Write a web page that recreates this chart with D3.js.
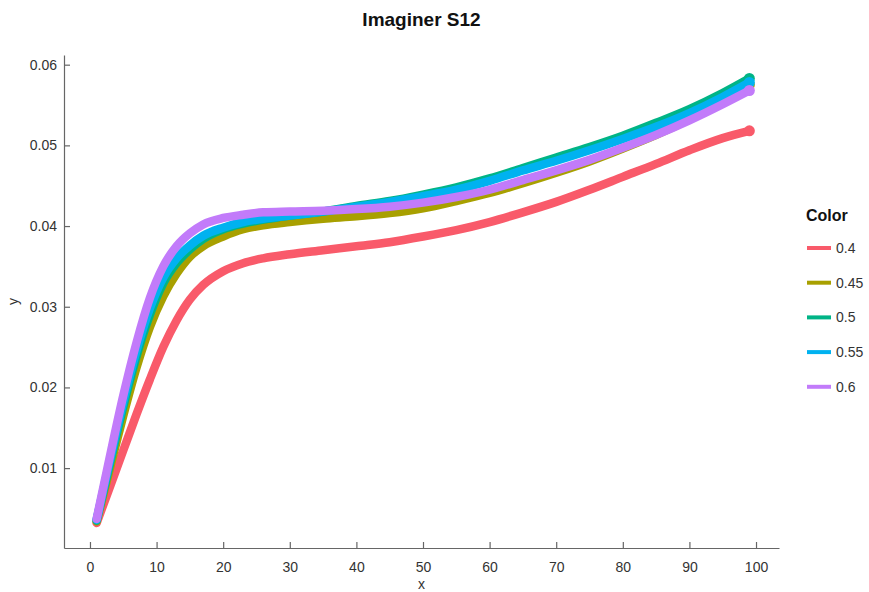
<!DOCTYPE html>
<html>
<head>
<meta charset="utf-8">
<script src="https://cdn.jsdelivr.net/npm/d3@7"></script>
<style>
  body { margin: 0; background: #fff; }
  svg { font-family: "Liberation Sans", Arial, sans-serif; }
</style>
</head>
<body>
<svg id="chart" width="869" height="592"></svg>
<script>
// Sample positions along x
const xs = [1, 3, 5, 7, 9, 11, 13, 15, 17, 20, 23, 26, 30, 35, 40, 45, 50, 55, 60, 65, 70, 75, 80, 85, 90, 95, 99];

// y values per colour setting
const y040 = [0.0032, 0.0077, 0.0122, 0.0167, 0.0210, 0.0250, 0.0283, 0.0309, 0.0327, 0.0344, 0.0354, 0.0360, 0.0365, 0.0370, 0.0375, 0.0380, 0.0387, 0.0395, 0.0405, 0.0417, 0.0430, 0.0445, 0.0461, 0.0477, 0.0494, 0.0509, 0.0518];
const y045 = [0.0034, 0.0100, 0.0165, 0.0225, 0.0275, 0.0313, 0.0341, 0.0362, 0.0375, 0.0387, 0.0396, 0.0401, 0.0405, 0.0409, 0.0412, 0.0416, 0.0422, 0.0431, 0.0441, 0.0453, 0.0466, 0.0480, 0.0496, 0.0513, 0.0532, 0.0553, 0.0575];
const y050 = [0.0035, 0.0106, 0.0176, 0.0239, 0.0290, 0.0329, 0.0354, 0.0371, 0.0384, 0.0396, 0.0403, 0.0408, 0.0413, 0.0418, 0.0425, 0.0431, 0.0439, 0.0448, 0.0459, 0.0472, 0.0485, 0.0498, 0.0512, 0.0528, 0.0545, 0.0565, 0.0583];
const y055 = [0.0036, 0.0110, 0.0182, 0.0246, 0.0298, 0.0336, 0.0360, 0.0376, 0.0388, 0.0398, 0.0405, 0.0409, 0.0413, 0.0418, 0.0424, 0.0430, 0.0437, 0.0445, 0.0456, 0.0469, 0.0481, 0.0494, 0.0508, 0.0523, 0.0540, 0.0560, 0.0578];
const y060 = [0.0037, 0.0115, 0.0190, 0.0256, 0.0311, 0.0350, 0.0375, 0.0391, 0.0402, 0.0410, 0.0414, 0.0417, 0.0418, 0.0419, 0.0421, 0.0424, 0.0429, 0.0436, 0.0445, 0.0457, 0.0469, 0.0482, 0.0497, 0.0513, 0.0531, 0.0551, 0.0568];

const seriesNames = ["0.4", "0.45", "0.5", "0.55", "0.6"];
const seriesValues = [y040, y045, y050, y055, y060];
const seriesColors = ["#F95A6A", "#A8A000", "#00B486", "#00B2F0", "#C27BFA"];

const xTicks = [0, 10, 20, 30, 40, 50, 60, 70, 80, 90, 100];
const yTicks = [0.01, 0.02, 0.03, 0.04, 0.05, 0.06];

const svg = d3.select("#chart");
const plotLeft = 64, plotRight = 779, plotTop = 55, plotBottom = 548;

const x = d3.scaleLinear().domain([-3.9, 103.45]).range([plotLeft, plotRight]);
const y = d3.scaleLinear().domain([0.0001, 0.0612]).range([plotBottom, plotTop]);

const axisColor = "#666";
const textColor = "#333";

// Axes with inward ticks
const gx = svg.append("g").attr("transform", `translate(0,${plotBottom})`)
  .call(d3.axisBottom(x).tickValues(xTicks).tickSizeInner(-6).tickSizeOuter(0).tickPadding(14));
const gy = svg.append("g").attr("transform", `translate(${plotLeft},0)`)
  .call(d3.axisLeft(y).tickValues(yTicks).tickFormat(d3.format(".2f")).tickSizeInner(-6).tickSizeOuter(0).tickPadding(7));
[gx, gy].forEach(g => {
  g.select(".domain").attr("stroke", axisColor).attr("stroke-width", 1.2);
  g.selectAll(".tick line").attr("stroke", axisColor).attr("stroke-width", 1.2);
  g.selectAll(".tick text").attr("fill", textColor).style("font-size", "14px")
    .style("font-family", "'Liberation Sans', Arial, sans-serif");
});

// Axis titles
svg.append("text").attr("x", (plotLeft + plotRight) / 2).attr("y", 589)
  .attr("text-anchor", "middle").attr("fill", textColor).style("font-size", "14px").text("x");
svg.append("text").attr("transform", `translate(18,${(plotTop + plotBottom) / 2}) rotate(-90)`)
  .attr("text-anchor", "middle").attr("fill", textColor).style("font-size", "14px").text("y");

// Title
svg.append("text").attr("x", (plotLeft + plotRight) / 2).attr("y", 26)
  .attr("text-anchor", "middle").attr("fill", "#111").style("font-size", "19px")
  .style("font-weight", "bold").text("Imaginer S12");

// Curves
const line = d3.line().x((d, i) => x(xs[i])).y(d => y(d)).curve(d3.curveMonotoneX);
const plot = svg.append("g");
seriesValues.forEach((vals, k) => {
  plot.append("path").attr("d", line(vals))
    .attr("fill", "none").attr("stroke", seriesColors[k])
    .attr("stroke-width", 8.5).attr("stroke-linecap", "round").attr("stroke-linejoin", "round");
  plot.append("circle")
    .attr("cx", x(xs[xs.length - 1])).attr("cy", y(vals[vals.length - 1]))
    .attr("r", 5.5).attr("fill", seriesColors[k]);
});

// Legend
const lg = svg.append("g").attr("transform", "translate(806,0)");
lg.append("text").attr("x", 0).attr("y", 221).attr("fill", "#111")
  .style("font-size", "16px").style("font-weight", "bold").text("Color");
seriesNames.forEach((name, k) => {
  const cy = 248 + k * 34.7;
  lg.append("line").attr("x1", 1).attr("x2", 25).attr("y1", cy).attr("y2", cy)
    .attr("stroke", seriesColors[k]).attr("stroke-width", 4);
  lg.append("text").attr("x", 30).attr("y", cy + 5).attr("fill", textColor)
    .style("font-size", "14px").text(name);
});
</script>
</body>
</html>
